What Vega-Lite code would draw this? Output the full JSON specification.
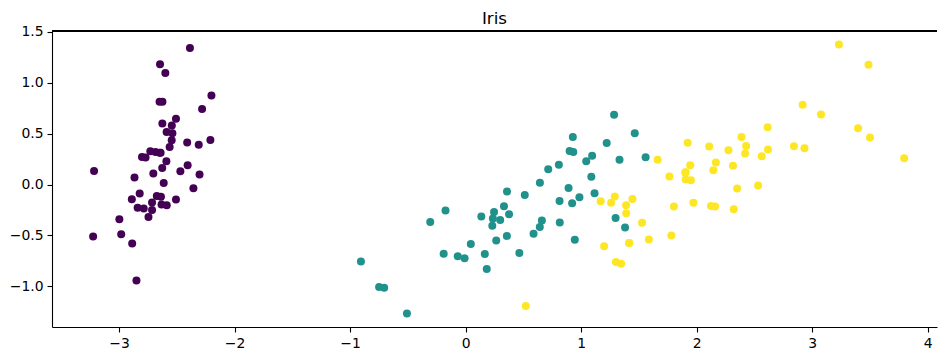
{
  "$schema": "https://vega.github.io/schema/vega-lite/v6.json",
  "width": 885,
  "height": 296,
  "autosize": {"type": "none"},
  "padding": {"left": 52, "top": 31, "right": 1, "bottom": 27},
  "background": "white",
  "title": {
    "text": "Iris",
    "font": "DejaVu Sans",
    "fontSize": 16.7,
    "fontWeight": "normal",
    "color": "#000000",
    "anchor": "middle",
    "frame": "group",
    "offset": -3
  },
  "config": {
    "view": {"stroke": null},
    "axis": {
      "grid": false,
      "domainColor": "#000000",
      "domainWidth": 1.1,
      "tickColor": "#000000",
      "tickWidth": 1.1,
      "tickSize": 5,
      "labelPadding": 4,
      "labelFont": "DejaVu Sans",
      "labelFontSize": 13.9,
      "labelColor": "#000000",
      "title": null
    }
  },
  "data": {
    "values": [
      {"pc1": -2.684, "pc2": 0.319, "species": "setosa"},
      {"pc1": -2.714, "pc2": -0.177, "species": "setosa"},
      {"pc1": -2.889, "pc2": -0.145, "species": "setosa"},
      {"pc1": -2.745, "pc2": -0.318, "species": "setosa"},
      {"pc1": -2.729, "pc2": 0.327, "species": "setosa"},
      {"pc1": -2.281, "pc2": 0.741, "species": "setosa"},
      {"pc1": -2.821, "pc2": -0.089, "species": "setosa"},
      {"pc1": -2.626, "pc2": 0.163, "species": "setosa"},
      {"pc1": -2.886, "pc2": -0.578, "species": "setosa"},
      {"pc1": -2.673, "pc2": -0.114, "species": "setosa"},
      {"pc1": -2.507, "pc2": 0.645, "species": "setosa"},
      {"pc1": -2.613, "pc2": 0.015, "species": "setosa"},
      {"pc1": -2.786, "pc2": -0.235, "species": "setosa"},
      {"pc1": -3.224, "pc2": -0.511, "species": "setosa"},
      {"pc1": -2.645, "pc2": 1.179, "species": "setosa"},
      {"pc1": -2.386, "pc2": 1.338, "species": "setosa"},
      {"pc1": -2.624, "pc2": 0.811, "species": "setosa"},
      {"pc1": -2.648, "pc2": 0.312, "species": "setosa"},
      {"pc1": -2.2, "pc2": 0.873, "species": "setosa"},
      {"pc1": -2.588, "pc2": 0.514, "species": "setosa"},
      {"pc1": -2.31, "pc2": 0.391, "species": "setosa"},
      {"pc1": -2.544, "pc2": 0.433, "species": "setosa"},
      {"pc1": -3.216, "pc2": 0.133, "species": "setosa"},
      {"pc1": -2.303, "pc2": 0.099, "species": "setosa"},
      {"pc1": -2.356, "pc2": -0.037, "species": "setosa"},
      {"pc1": -2.507, "pc2": -0.146, "species": "setosa"},
      {"pc1": -2.469, "pc2": 0.131, "species": "setosa"},
      {"pc1": -2.562, "pc2": 0.368, "species": "setosa"},
      {"pc1": -2.64, "pc2": 0.312, "species": "setosa"},
      {"pc1": -2.632, "pc2": -0.197, "species": "setosa"},
      {"pc1": -2.587, "pc2": -0.204, "species": "setosa"},
      {"pc1": -2.41, "pc2": 0.411, "species": "setosa"},
      {"pc1": -2.649, "pc2": 0.813, "species": "setosa"},
      {"pc1": -2.599, "pc2": 1.093, "species": "setosa"},
      {"pc1": -2.637, "pc2": -0.121, "species": "setosa"},
      {"pc1": -2.866, "pc2": 0.069, "species": "setosa"},
      {"pc1": -2.625, "pc2": 0.599, "species": "setosa"},
      {"pc1": -2.801, "pc2": 0.269, "species": "setosa"},
      {"pc1": -2.981, "pc2": -0.488, "species": "setosa"},
      {"pc1": -2.59, "pc2": 0.229, "species": "setosa"},
      {"pc1": -2.77, "pc2": 0.264, "species": "setosa"},
      {"pc1": -2.849, "pc2": -0.941, "species": "setosa"},
      {"pc1": -2.997, "pc2": -0.342, "species": "setosa"},
      {"pc1": -2.406, "pc2": 0.189, "species": "setosa"},
      {"pc1": -2.209, "pc2": 0.437, "species": "setosa"},
      {"pc1": -2.714, "pc2": -0.25, "species": "setosa"},
      {"pc1": -2.538, "pc2": 0.504, "species": "setosa"},
      {"pc1": -2.839, "pc2": -0.228, "species": "setosa"},
      {"pc1": -2.543, "pc2": 0.579, "species": "setosa"},
      {"pc1": -2.703, "pc2": 0.108, "species": "setosa"},
      {"pc1": 1.285, "pc2": 0.685, "species": "versicolor"},
      {"pc1": 0.932, "pc2": 0.318, "species": "versicolor"},
      {"pc1": 1.464, "pc2": 0.504, "species": "versicolor"},
      {"pc1": 0.183, "pc2": -0.828, "species": "versicolor"},
      {"pc1": 1.088, "pc2": 0.075, "species": "versicolor"},
      {"pc1": 0.642, "pc2": -0.418, "species": "versicolor"},
      {"pc1": 1.095, "pc2": 0.283, "species": "versicolor"},
      {"pc1": -0.749, "pc2": -1.005, "species": "versicolor"},
      {"pc1": 1.044, "pc2": 0.228, "species": "versicolor"},
      {"pc1": -0.009, "pc2": -0.723, "species": "versicolor"},
      {"pc1": -0.508, "pc2": -1.266, "species": "versicolor"},
      {"pc1": 0.512, "pc2": -0.104, "species": "versicolor"},
      {"pc1": 0.265, "pc2": -0.55, "species": "versicolor"},
      {"pc1": 0.985, "pc2": -0.125, "species": "versicolor"},
      {"pc1": -0.174, "pc2": -0.255, "species": "versicolor"},
      {"pc1": 0.928, "pc2": 0.467, "species": "versicolor"},
      {"pc1": 0.66, "pc2": -0.353, "species": "versicolor"},
      {"pc1": 0.236, "pc2": -0.334, "species": "versicolor"},
      {"pc1": 0.945, "pc2": -0.543, "species": "versicolor"},
      {"pc1": 0.045, "pc2": -0.584, "species": "versicolor"},
      {"pc1": 1.116, "pc2": -0.085, "species": "versicolor"},
      {"pc1": 0.358, "pc2": -0.069, "species": "versicolor"},
      {"pc1": 1.298, "pc2": -0.328, "species": "versicolor"},
      {"pc1": 0.922, "pc2": -0.183, "species": "versicolor"},
      {"pc1": 0.715, "pc2": 0.149, "species": "versicolor"},
      {"pc1": 0.9, "pc2": 0.329, "species": "versicolor"},
      {"pc1": 1.332, "pc2": 0.244, "species": "versicolor"},
      {"pc1": 1.558, "pc2": 0.267, "species": "versicolor"},
      {"pc1": 0.813, "pc2": -0.163, "species": "versicolor"},
      {"pc1": -0.306, "pc2": -0.368, "species": "versicolor"},
      {"pc1": -0.068, "pc2": -0.705, "species": "versicolor"},
      {"pc1": -0.19, "pc2": -0.68, "species": "versicolor"},
      {"pc1": 0.136, "pc2": -0.314, "species": "versicolor"},
      {"pc1": 1.38, "pc2": -0.421, "species": "versicolor"},
      {"pc1": 0.588, "pc2": -0.484, "species": "versicolor"},
      {"pc1": 0.807, "pc2": 0.194, "species": "versicolor"},
      {"pc1": 1.221, "pc2": 0.408, "species": "versicolor"},
      {"pc1": 0.815, "pc2": -0.372, "species": "versicolor"},
      {"pc1": 0.246, "pc2": -0.269, "species": "versicolor"},
      {"pc1": 0.166, "pc2": -0.682, "species": "versicolor"},
      {"pc1": 0.465, "pc2": -0.671, "species": "versicolor"},
      {"pc1": 0.891, "pc2": -0.034, "species": "versicolor"},
      {"pc1": 0.231, "pc2": -0.404, "species": "versicolor"},
      {"pc1": -0.705, "pc2": -1.012, "species": "versicolor"},
      {"pc1": 0.357, "pc2": -0.505, "species": "versicolor"},
      {"pc1": 0.332, "pc2": -0.213, "species": "versicolor"},
      {"pc1": 0.376, "pc2": -0.293, "species": "versicolor"},
      {"pc1": 0.643, "pc2": 0.018, "species": "versicolor"},
      {"pc1": -0.906, "pc2": -0.756, "species": "versicolor"},
      {"pc1": 0.299, "pc2": -0.349, "species": "versicolor"},
      {"pc1": 2.531, "pc2": -0.01, "species": "virginica"},
      {"pc1": 1.415, "pc2": -0.575, "species": "virginica"},
      {"pc1": 2.617, "pc2": 0.344, "species": "virginica"},
      {"pc1": 1.972, "pc2": -0.18, "species": "virginica"},
      {"pc1": 2.35, "pc2": -0.04, "species": "virginica"},
      {"pc1": 3.397, "pc2": 0.551, "species": "virginica"},
      {"pc1": 0.521, "pc2": -1.193, "species": "virginica"},
      {"pc1": 2.933, "pc2": 0.356, "species": "virginica"},
      {"pc1": 2.321, "pc2": -0.244, "species": "virginica"},
      {"pc1": 2.917, "pc2": 0.783, "species": "virginica"},
      {"pc1": 1.662, "pc2": 0.242, "species": "virginica"},
      {"pc1": 1.803, "pc2": -0.216, "species": "virginica"},
      {"pc1": 2.166, "pc2": 0.216, "species": "virginica"},
      {"pc1": 1.346, "pc2": -0.777, "species": "virginica"},
      {"pc1": 1.586, "pc2": -0.54, "species": "virginica"},
      {"pc1": 1.904, "pc2": 0.119, "species": "virginica"},
      {"pc1": 1.95, "pc2": 0.042, "species": "virginica"},
      {"pc1": 3.487, "pc2": 1.176, "species": "virginica"},
      {"pc1": 3.796, "pc2": 0.257, "species": "virginica"},
      {"pc1": 1.301, "pc2": -0.761, "species": "virginica"},
      {"pc1": 2.428, "pc2": 0.378, "species": "virginica"},
      {"pc1": 1.199, "pc2": -0.606, "species": "virginica"},
      {"pc1": 3.5, "pc2": 0.461, "species": "virginica"},
      {"pc1": 1.389, "pc2": -0.204, "species": "virginica"},
      {"pc1": 2.275, "pc2": 0.335, "species": "virginica"},
      {"pc1": 2.614, "pc2": 0.561, "species": "virginica"},
      {"pc1": 1.259, "pc2": -0.18, "species": "virginica"},
      {"pc1": 1.291, "pc2": -0.117, "species": "virginica"},
      {"pc1": 2.124, "pc2": -0.21, "species": "virginica"},
      {"pc1": 2.388, "pc2": 0.465, "species": "virginica"},
      {"pc1": 2.842, "pc2": 0.375, "species": "virginica"},
      {"pc1": 3.231, "pc2": 1.374, "species": "virginica"},
      {"pc1": 2.159, "pc2": -0.217, "species": "virginica"},
      {"pc1": 1.444, "pc2": -0.143, "species": "virginica"},
      {"pc1": 1.781, "pc2": -0.5, "species": "virginica"},
      {"pc1": 3.076, "pc2": 0.688, "species": "virginica"},
      {"pc1": 2.144, "pc2": 0.14, "species": "virginica"},
      {"pc1": 1.905, "pc2": 0.049, "species": "virginica"},
      {"pc1": 1.169, "pc2": -0.165, "species": "virginica"},
      {"pc1": 2.108, "pc2": 0.372, "species": "virginica"},
      {"pc1": 2.314, "pc2": 0.184, "species": "virginica"},
      {"pc1": 1.922, "pc2": 0.409, "species": "virginica"},
      {"pc1": 1.415, "pc2": -0.575, "species": "virginica"},
      {"pc1": 2.563, "pc2": 0.278, "species": "virginica"},
      {"pc1": 2.419, "pc2": 0.305, "species": "virginica"},
      {"pc1": 1.944, "pc2": 0.188, "species": "virginica"},
      {"pc1": 1.527, "pc2": -0.375, "species": "virginica"},
      {"pc1": 1.764, "pc2": 0.079, "species": "virginica"},
      {"pc1": 1.901, "pc2": 0.117, "species": "virginica"},
      {"pc1": 1.39, "pc2": -0.283, "species": "virginica"}
    ]
  },
  "layer": [
    {
      "mark": {"type": "point", "shape": "circle", "filled": true, "opacity": 1, "size": 64},
      "encoding": {
        "x": {
          "field": "pc1",
          "type": "quantitative",
          "scale": {"domain": [-3.58, 4.08], "nice": false, "zero": false},
          "axis": {"values": [-3, -2, -1, 0, 1, 2, 3, 4], "format": "d"}
        },
        "y": {
          "field": "pc2",
          "type": "quantitative",
          "scale": {"domain": [-1.398, 1.506], "nice": false, "zero": false},
          "axis": {"values": [-1, -0.5, 0, 0.5, 1, 1.5], "format": ".1f"}
        },
        "color": {
          "field": "species",
          "type": "nominal",
          "scale": {
            "domain": ["setosa", "versicolor", "virginica"],
            "range": ["#440154", "#21918c", "#fde725"]
          },
          "legend": null
        }
      }
    },
    {
      "mark": {"type": "rule", "color": "#000000", "strokeWidth": 1.1},
      "encoding": {"y": {"datum": 1.506, "type": "quantitative"}}
    }
  ]
}
